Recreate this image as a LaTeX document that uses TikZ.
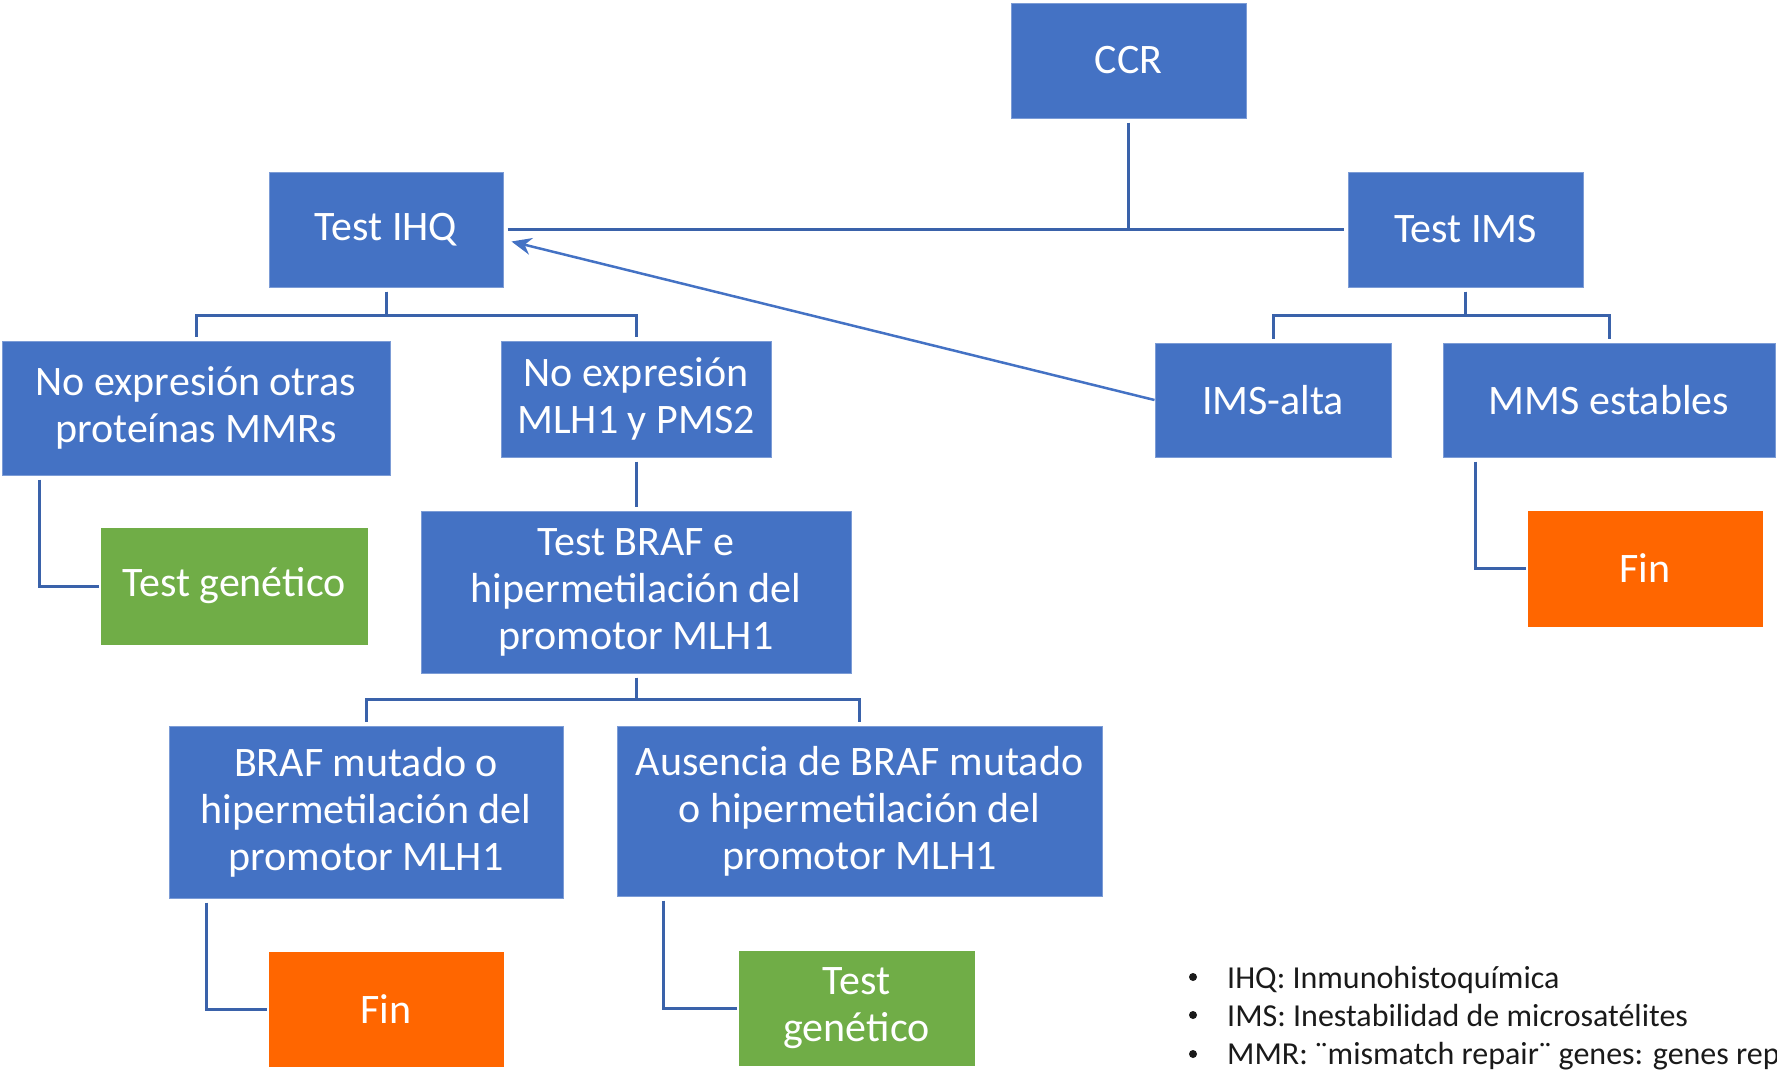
\documentclass[tikz,border=0pt]{standalone}
\usepackage{fontspec}
\setmainfont{Carlito}
\usetikzlibrary{arrows.meta}
\definecolor{boxblue}{HTML}{4472C4}
\definecolor{linblue}{HTML}{3A62AA}
\definecolor{boxgreen}{HTML}{70AD47}
\definecolor{boxorange}{HTML}{FF6600}
\definecolor{legtext}{HTML}{1A1A1A}
\tikzset{
  box/.style={rectangle, fill=boxblue, draw=boxblue!70!white, line width=1pt, text=white, align=center, inner sep=0pt,
    font=\fontsize{42}{47}\selectfont},
  greenbox/.style={box, fill=boxgreen, draw=boxgreen},
  orangebox/.style={box, fill=boxorange, draw=boxorange},
  conn/.style={draw=linblue, line width=3pt},
  arr/.style={draw=boxblue, line width=2.5pt, -{Stealth[length=20pt,width=17pt]}},
  legend/.style={anchor=base west, inner sep=0pt, text=legtext, font=\fontsize{32}{38}\selectfont},
  bul/.style={circle, fill=legtext, inner sep=0pt, minimum size=8pt}
}
\begin{document}
\begin{tikzpicture}[x=1pt,y=-1pt]
\useasboundingbox (0,0) rectangle (1777,1069);
% nodes
\node[box, minimum width=235, minimum height=115] (ccr) at (1128.5,60.5) {CCR};
\node[box, minimum width=234, minimum height=115] (ihq) at (386,229.5) {Test IHQ};
\node[box, minimum width=235, minimum height=115] (ims) at (1465.5,229.5) {Test IMS};
\node[box, minimum width=388, minimum height=134] (otras) at (196,408) {No expresión otras\\proteínas MMRs};
\node[box, minimum width=270, minimum height=116] (mlh) at (636,399) {No expresión\\MLH1 y PMS2};
\node[box, minimum width=236, minimum height=114] (alta) at (1273,400) {IMS-alta};
\node[box, minimum width=332, minimum height=114] (est) at (1609,400) {MMS estables};
\node[greenbox, minimum width=266, minimum height=116] (gen1) at (234,586) {Test genético};
\node[box, minimum width=430, minimum height=162] (braf) at (636,592) {Test BRAF e\\hipermetilación del\\promotor MLH1};
\node[orangebox, minimum width=234, minimum height=115] (fin1) at (1645,568.5) {Fin};
\node[box, minimum width=394, minimum height=172] (mut) at (366,812) {BRAF mutado o\\hipermetilación del\\promotor MLH1};
\node[box, minimum width=485, minimum height=170] (aus) at (859.5,811) {Ausencia de BRAF mutado\\o hipermetilación del\\promotor MLH1};
\node[orangebox, minimum width=234, minimum height=114] (fin2) at (386,1009) {Fin};
\node[greenbox, minimum width=235, minimum height=114] (gen2) at (856.5,1008) {Test\\genético};
% connectors
\draw[conn] ([yshift=-4]ccr.south) -- (ccr.south |- ihq.east);
\draw[conn] ([xshift=4]ihq.east) -- ([xshift=-4]ims.west);
\draw[conn] ([yshift=-4]ihq.south) -- ++(0,24) -| ([yshift=4]otras.north);
\draw[conn] ([yshift=-4]ihq.south) -- ++(0,24) -| ([yshift=4]mlh.north);
\draw[conn] ([yshift=-4]ims.south) -- ++(0,24) -| ([yshift=4]alta.north);
\draw[conn] ([yshift=-4]ims.south) -- ++(0,24) -| ([yshift=4]est.north);
\draw[conn] ([yshift=-4]mlh.south) -- ([yshift=4]braf.north);
\draw[conn] ([yshift=-4]braf.south) -- ++(0,22) -| ([yshift=4]mut.north);
\draw[conn] ([yshift=-4]braf.south) -- ++(0,22) -| ([yshift=4]aus.north);
\draw[conn] ([xshift=38,yshift=-4]otras.south west) |- ([xshift=-2]gen1.west);
\draw[conn] ([xshift=38,yshift=-4]mut.south west) |- ([xshift=-2]fin2.west);
\draw[conn] ([xshift=47,yshift=-4]aus.south west) |- ([xshift=-2]gen2.west);
\draw[conn] ([xshift=33,yshift=-4]est.south west) |- ([xshift=-2]fin1.west);
\draw[arr] (alta.west) -- ([xshift=8,yshift=-12]ihq.east);
% legend
\node[bul] (b1) at (1193,977) {};
\node[bul] (b2) at (1193,1015) {};
\node[bul] (b3) at (1193,1054) {};
\node[legend] (l1) at (1227,988) {IHQ: Inmunohistoquímica};
\node[legend] (l2) at (1227,1026) {IMS: Inestabilidad de microsatélites};
\node[legend] (l3) at (1227,1064) {MMR: ¨mismatch repair¨ genes: genes rep};
\end{tikzpicture}
\end{document}
